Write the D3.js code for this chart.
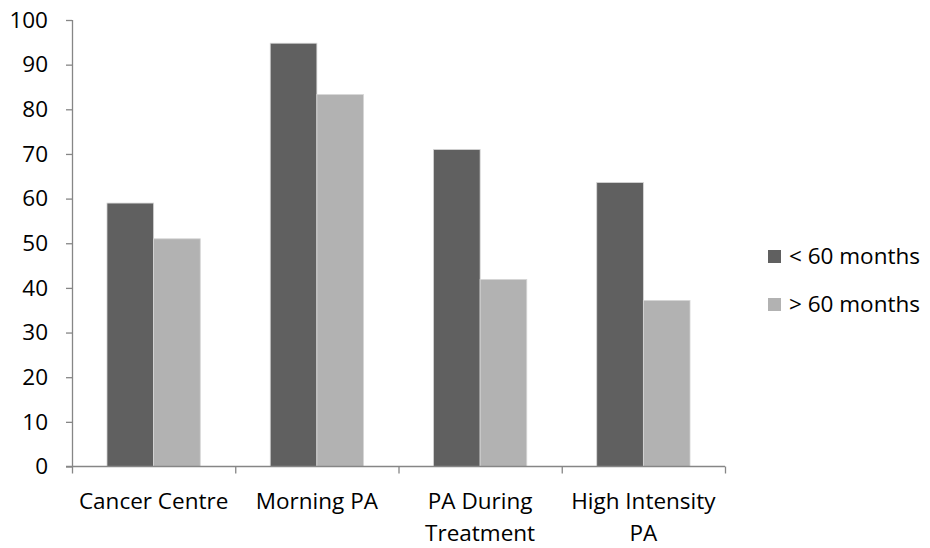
<!DOCTYPE html>
<html>
<head>
<meta charset="utf-8">
<script src="https://cdn.jsdelivr.net/npm/d3@7"></script>
<style>
  html, body { margin: 0; padding: 0; background: #fff; }
  svg { display: block; }
  text { font-family: "Open Sans", "Noto Sans", sans-serif; fill: #000; }
</style>
</head>
<body>
<svg id="chart" width="930" height="548"></svg>
<script>
// Categories (some split over two lines) and the two series
const categories = [["Cancer Centre"], ["Morning PA"], ["PA During", "Treatment"], ["High Intensity", "PA"]];
const seriesNames = ["< 60 months", "> 60 months"];
const under60 = [59, 94.8, 71, 63.6];
const over60 = [51, 83.3, 41.9, 37.2];
const yTicks = [0, 10, 20, 30, 40, 50, 60, 70, 80, 90, 100];
const colors = ["#606060", "#b2b2b2"];

const svg = d3.select("#chart");
const margin = { left: 72, right: 205, top: 20, bottom: 81.5 };
const width = 930 - margin.left - margin.right;
const height = 548 - margin.top - margin.bottom;
const fontSize = 22.5;
const lineGap = 32;

const g = svg.append("g").attr("transform", `translate(${margin.left},${margin.top})`);

const keys = categories.map((c, i) => i);
const x = d3.scaleBand().domain(keys).range([0, width]).paddingInner(0).paddingOuter(0);
// 150% gap width: two bars of width w plus a gap of 1.5w fill each band
const gap = x.bandwidth() * 0.75 / 3.5;
const x1 = d3.scaleBand().domain([0, 1]).range([gap, x.bandwidth() - gap]);
const y = d3.scaleLinear().domain([0, 100]).range([height, 0]);

const axisColor = "#868686";

// Y axis
const yAxis = g.append("g")
  .call(d3.axisLeft(y).tickValues(yTicks).tickSize(6).tickPadding(18).tickFormat(d3.format("d")));
yAxis.select(".domain").attr("stroke", axisColor).attr("stroke-width", 1.3).attr("d", `M0.5,${height}V0`);
yAxis.selectAll(".tick line").attr("stroke", axisColor).attr("stroke-width", 1.3);
yAxis.selectAll(".tick text").style("font-size", fontSize + "px").attr("font-family", null);

// Bars
const data = [under60, over60];
const groups = g.selectAll(".cat").data(keys).join("g")
  .attr("class", "cat")
  .attr("transform", d => `translate(${x(d)},0)`);
groups.selectAll("rect")
  .data(i => data.map((s, k) => ({ k, v: s[i] })))
  .join("rect")
  .attr("x", d => x1(d.k))
  .attr("width", x1.bandwidth())
  .attr("y", d => y(d.v))
  .attr("height", d => height - y(d.v))
  .attr("fill", d => colors[d.k])
  .attr("stroke", "#d6d6d6")
  .attr("stroke-width", 0.8);

// X axis line and category boundary ticks
const xAxisG = g.append("g").attr("transform", `translate(0,${height})`);
xAxisG.append("line")
  .attr("x1", -6).attr("x2", width)
  .attr("y1", 0).attr("y2", 0)
  .attr("stroke", axisColor).attr("stroke-width", 1.3);
const boundaries = keys.map(k => x(k)).concat([width]);
xAxisG.selectAll(".bt").data(boundaries).join("line")
  .attr("class", "bt")
  .attr("x1", d => d + 0.5).attr("x2", d => d + 0.5)
  .attr("y1", 0).attr("y2", 7)
  .attr("stroke", axisColor).attr("stroke-width", 1.3);

// Category labels, one text element per line
const labelLines = keys.flatMap(k => categories[k].map((t, li) => ({ k, t, li })));
xAxisG.selectAll(".cl").data(labelLines).join("text")
  .attr("class", "cl")
  .attr("text-anchor", "middle")
  .attr("x", d => x(d.k) + x.bandwidth() / 2)
  .attr("y", d => 42 + d.li * lineGap)
  .style("font-size", fontSize + "px")
  .text(d => d.t);

// Legend
const legend = svg.append("g").attr("transform", "translate(768,250)");
const items = legend.selectAll("g").data(seriesNames).join("g")
  .attr("transform", (d, i) => `translate(0,${i * 48})`);
items.append("rect").attr("width", 13).attr("height", 13).attr("fill", (d, i) => colors[i]);
items.append("text").attr("x", 21).attr("y", 13.5).style("font-size", fontSize + "px").text(d => d);
</script>
</body>
</html>
